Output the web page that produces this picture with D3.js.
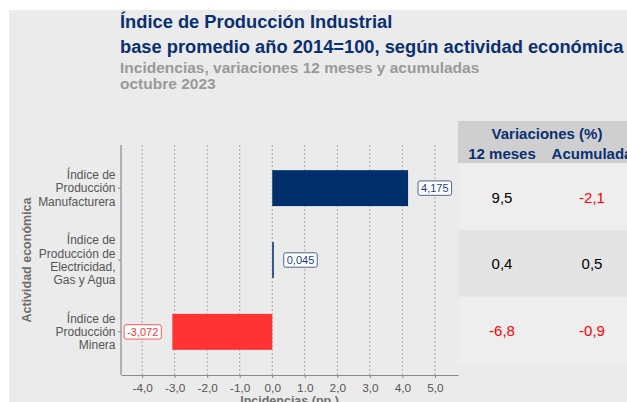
<!DOCTYPE html>
<html>
<head>
<meta charset="utf-8">
<script src="https://cdn.jsdelivr.net/npm/d3@7"></script>
<style>
  html, body { margin: 0; padding: 0; background: #ffffff; }
  svg { display: block; font-family: "Liberation Sans", Arial, sans-serif; }
</style>
</head>
<body>
<svg id="chart" width="627" height="402"></svg>
<script>
// ---- data ----
const categories = [
  ["Índice de", "Producción", "Manufacturera"],
  ["Índice de", "Producción de", "Electricidad,", "Gas y Agua"],
  ["Índice de", "Producción", "Minera"]
];
const incidencias = [4.175, 0.045, -3.072];
const incidenciaLabels = ["4,175", "0,045", "-3,072"];
const var12meses = [9.5, 0.4, -6.8];
const varAcumulada = [-2.1, 0.5, -0.9];
const xTicks = [-4, -3, -2, -1, 0, 1, 2, 3, 4, 5];
const xTickLabels = ["-4,0", "-3,0", "-2,0", "-1,0", "0,0", "1.0", "2,0", "3,0", "4,0", "5,0"];
const titleLines = ["Índice de Producción Industrial", "base promedio año 2014=100, según actividad económica"];
const subtitleLines = ["Incidencias, variaciones 12 meses y acumuladas", "octubre 2023"];
const tableHeader = "Variaciones (%)";
const tableCols = ["12 meses", "Acumulada"];

// ---- setup ----
const svg = d3.select("#chart");
const W = 627, H = 402;
const blue = "#002f6c", red = "#ff3333", navy = "#0a2f73";
const fmt = v => v.toFixed(1).replace(".", ",");

svg.append("rect").attr("x", 9).attr("y", 10).attr("width", W - 9).attr("height", H - 10).attr("fill", "#ebebeb");

// titles
const tt = svg.append("text").attr("fill", navy).attr("font-weight", "bold").attr("font-size", 18.3);
titleLines.forEach((t, i) => tt.append("tspan").attr("x", 120).attr("y", 28 + i * 24.5).text(t));
const st = svg.append("text").attr("fill", "#9a9a9a").attr("font-weight", "bold").attr("font-size", 15.5);
subtitleLines.forEach((t, i) => st.append("tspan").attr("x", 120).attr("y", 72.5 + i * 16.5).text(t));

// scales
const panel = { left: 121, right: 458, top: 145, bottom: 375 };
const x = d3.scaleLinear().domain([-4.65, 5.71]).range([panel.left, panel.right]);
const idx = d3.range(categories.length);
// ggplot-style discrete positions with 0.6 expansion
const y = d3.scaleLinear().domain([-0.6, 2.6]).range([panel.top, panel.bottom]);
const yc = i => y(i);
const barH = y(0.5) - y(0);

// gridlines
svg.append("g").selectAll("line").data(xTicks).join("line")
  .attr("x1", d => x(d)).attr("x2", d => x(d))
  .attr("y1", panel.top).attr("y2", panel.bottom)
  .attr("stroke", "#9a9a9a").attr("stroke-width", 0.8).attr("stroke-dasharray", "2,2");

// axes
const xAxis = d3.axisBottom(x).tickValues(xTicks).tickFormat((d, i) => xTickLabels[i]).tickSize(3).tickSizeOuter(0);
const gx = svg.append("g").attr("transform", `translate(0,${panel.bottom})`).call(xAxis);
gx.select(".domain").attr("stroke", "#8a8a8a").attr("stroke-width", 1.2);
gx.selectAll(".tick line").attr("stroke", "#8a8a8a");
gx.selectAll(".tick text").attr("fill", "#555").attr("font-size", 11.8).attr("font-family", "Liberation Sans, Arial, sans-serif").attr("dy", "0.9em");

svg.append("line").attr("x1", panel.left).attr("x2", panel.left).attr("y1", panel.top).attr("y2", panel.bottom)
  .attr("stroke", "#8a8a8a").attr("stroke-width", 1.2);

// y tick marks + labels
idx.forEach(i => {
  svg.append("line").attr("x1", panel.left - 3).attr("x2", panel.left).attr("y1", yc(i)).attr("y2", yc(i)).attr("stroke", "#8a8a8a");
  const lines = categories[i];
  const lh = 13.3;
  const t = svg.append("text").attr("text-anchor", "end").attr("fill", "#555").attr("font-size", 12);
  lines.forEach((l, j) => t.append("tspan").attr("x", 115.5)
    .attr("y", yc(i) + (j - (lines.length - 1) / 2) * lh + 4.2).text(l));
});

// axis titles
svg.append("text").attr("transform", `translate(31,${(panel.top + panel.bottom) / 2}) rotate(-90)`)
  .attr("text-anchor", "middle").attr("fill", "#6e6e6e").attr("font-weight", "bold").attr("font-size", 12.5)
  .text("Actividad económica");
svg.append("text").attr("x", (panel.left + panel.right) / 2).attr("y", 405)
  .attr("text-anchor", "middle").attr("fill", "#6e6e6e").attr("font-weight", "bold").attr("font-size", 12.5)
  .text("Incidencias (pp.)");

// bars
svg.append("g").selectAll("rect").data(idx).join("rect")
  .attr("x", i => x(Math.min(0, incidencias[i])))
  .attr("width", i => Math.max(1.5, Math.abs(x(incidencias[i]) - x(0))))
  .attr("y", i => yc(i) - barH / 2).attr("height", barH)
  .attr("fill", i => incidencias[i] >= 0 ? blue : red);

// value labels
idx.forEach(i => {
  const v = incidencias[i];
  const col = v >= 0 ? "#1f3f7f" : red;
  const g = svg.append("g");
  const txt = g.append("text").attr("font-size", 11).attr("fill", col)
    .attr("text-anchor", v >= 0 ? "start" : "end")
    .attr("x", v >= 0 ? x(v) + 13 : x(v) - 14).attr("y", yc(i) + 4)
    .text(incidenciaLabels[i]);
  const bb = txt.node().getBBox();
  g.insert("rect", "text").attr("x", bb.x - 3).attr("y", yc(i) - 7.2).attr("width", bb.width + 6).attr("height", 14.4)
    .attr("rx", 2).attr("fill", "#fff").attr("stroke", col).attr("stroke-width", 0.8);
});

// table
const tx = 458, tw = W - tx;
const colX = [502, 592];
svg.append("rect").attr("x", tx).attr("y", 121).attr("width", tw).attr("height", 42.3).attr("fill", "#cfcfcf");
svg.append("text").attr("x", (colX[0] + colX[1]) / 2).attr("y", 138.5).attr("text-anchor", "middle")
  .attr("fill", navy).attr("font-weight", "bold").attr("font-size", 15).text(tableHeader);
tableCols.forEach((c, j) => svg.append("text").attr("x", colX[j]).attr("y", 159).attr("text-anchor", "middle")
  .attr("fill", navy).attr("font-weight", "bold").attr("font-size", 15).text(c));
const rowH = 66.7;
idx.forEach(i => {
  const ry = 163.3 + i * rowH;
  svg.append("rect").attr("x", tx).attr("y", ry).attr("width", tw).attr("height", rowH)
    .attr("fill", i === 1 ? "#e4e4e4" : "#eeeeee");
  [var12meses[i], varAcumulada[i]].forEach((v, j) => {
    svg.append("text").attr("x", colX[j]).attr("y", ry + rowH / 2 + 6).attr("text-anchor", "middle")
      .attr("font-size", 15).attr("fill", v < 0 ? "#ff0000" : "#000").text(fmt(v));
  });
});
</script>
</body>
</html>
